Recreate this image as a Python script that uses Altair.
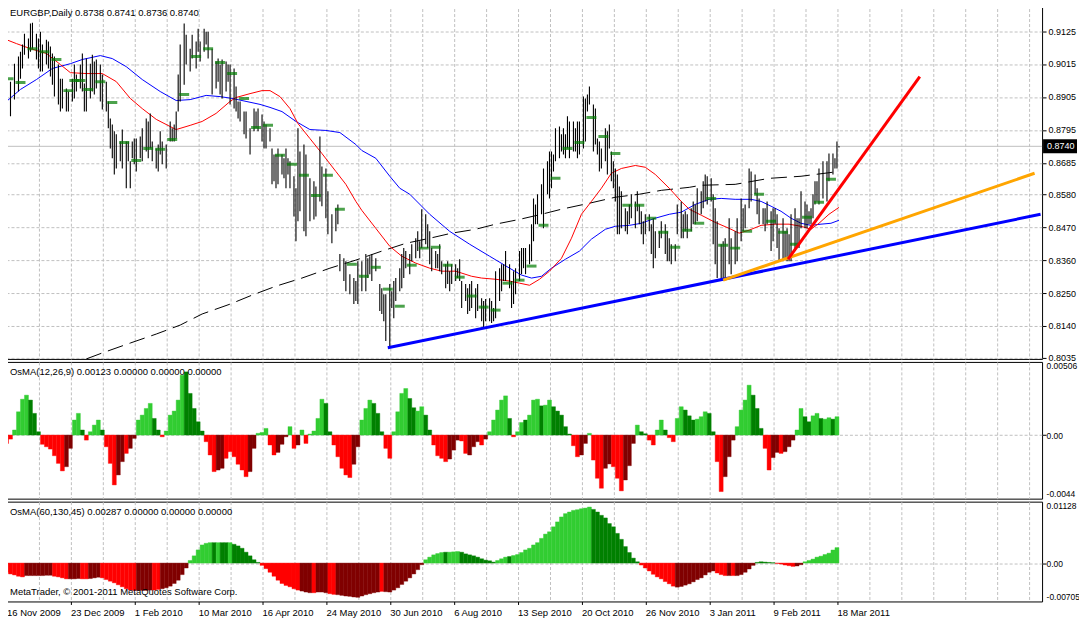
import altair as alt
import pandas as pd

FONT = "Liberation Sans"
FS = 9.5
FS_AX = 9
FS_OSC = 8.5

# ---------------- axis labels ----------------
date_ticks = [0, 32, 64, 96, 128, 160, 192, 224, 256, 288, 320, 352, 384, 416]
date_labels = ["16 Nov 2009", "23 Dec 2009", "1 Feb 2010", "10 Mar 2010", "16 Apr 2010",
               "24 May 2010", "30 Jun 2010", "6 Aug 2010", "13 Sep 2010", "20 Oct 2010",
               "26 Nov 2010", "3 Jan 2011", "9 Feb 2011", "18 Mar 2011"]
grid_x = list(range(0, 519, 16))
price_ticks = [0.9125, 0.9015, 0.8905, 0.8795, 0.8685, 0.8580, 0.8470, 0.8360, 0.8250, 0.8140, 0.8035]
fast_ticks = [0.00506, 0.0, -0.0044]
fast_tick_labels = ["0.00506", "0.00", "-0.0044"]
slow_ticks = [0.01128, 0.0, -0.00705]
slow_tick_labels = ["0.01128", "0.00", "-0.00705"]

title_text = "EURGBP,Daily  0.8738 0.8741 0.8736 0.8740"
fast_text = "OsMA(12,26,9) 0.00123 0.00000 0.00000 0.00000"
slow_text = "OsMA(60,130,45) 0.00287 0.00000 0.00000 0.00000"
copyright_text = "MetaTrader, \u00a9 2001-2011 MetaQuotes Software Corp."
last_close = 0.8740

# ---------------- price bars (bar index, high, low) ----------------
bar_i = [0, 2, 4, 6, 7, 8, 9, 11, 12, 13,
         15, 16, 17, 18, 20, 21, 22, 23, 24, 26,
         27, 28, 30, 31, 33, 34, 35, 37, 38, 39,
         40, 42, 43, 44, 45, 47, 48, 50, 51, 52,
         53, 54, 55, 57, 58, 60, 61, 62, 63, 64,
         65, 67, 68, 70, 71, 72, 73, 75, 76, 77,
         78, 80, 82, 83, 84, 85, 86, 87, 89, 90,
         92, 93, 95, 96, 97, 99, 100, 101, 103, 105,
         106, 107, 108, 110, 111, 112, 114, 115, 116, 117,
         119, 120, 122, 124, 125, 126, 128, 129, 130, 132,
         133, 134, 135, 136, 138, 139, 140, 141, 142, 144,
         145, 146, 147, 149, 150, 152, 154, 155, 157, 158,
         160, 161, 163, 165, 166, 167, 169, 170, 172, 174,
         175, 176, 178, 180, 181, 182, 183, 185, 187, 188,
         189, 190, 192, 193, 194, 195, 197, 198, 199, 200,
         202, 203, 205, 206, 207, 208, 210, 211, 212, 213,
         215, 216, 217, 218, 220, 221, 222, 223, 225, 226,
         227, 228, 230, 231, 232, 233, 235, 236, 238, 239,
         240, 242, 243, 244, 245, 247, 248, 249, 250, 252,
         253, 254, 255, 257, 258, 259, 260, 262, 263, 264,
         265, 266, 268, 269, 271, 272, 273, 274, 275, 277,
         278, 279, 280, 281, 282, 284, 285, 286, 287, 289,
         290, 291, 292, 294, 295, 296, 297, 298, 300, 301,
         302, 303, 304, 305, 306, 307, 308, 310, 311, 312,
         313, 315, 316, 317, 318, 319, 320, 322, 323, 324,
         325, 327, 328, 330, 331, 332, 333, 335, 336, 338,
         339, 340, 341, 343, 344, 345, 346, 348, 349, 350,
         351, 353, 354, 355, 356, 358, 359, 360, 362, 363,
         365, 366, 368, 369, 370, 372, 373, 375, 376, 377,
         379, 380, 381, 383, 384, 385, 386, 387, 389, 390,
         391, 392, 393, 395, 396, 397, 398, 400, 401, 402,
         403, 404, 405, 406, 407, 409, 411, 412, 414, 415,
         416, 417]
bar_hi = [.8966, .8956, .9016, .9040, .9056, .9080, .9116, .9100, .9150, .9153,
          .9116, .9100, .9123, .9080, .9096, .9090, .9073, .9050, .9040, .9013,
          .8966, .8966, .8933, .8923, .8966, .9013, .8980, .9013, .9050, .8950,
          .9033, .9016, .9046, .9023, .9030, .9013, .8980, .8956, .8890, .8833,
          .8813, .8790, .8780, .8756, .8796, .8756, .8756, .8690, .8756, .8766,
          .8766, .8773, .8800, .8833, .8823, .8850, .8756, .8733, .8746, .8790,
          .8756, .8746, .8823, .8800, .8813, .8856, .8980, .9080, .9150, .9113,
          .9066, .9113, .9090, .9133, .9090, .9133, .9123, .9123, .9066, .9023,
          .9033, .9013, .9030, .9023, .9013, .9013, .9000, .8940, .8890, .8890,
          .8856, .8856, .8800, .8866, .8856, .8866, .8846, .8823, .8813, .8800,
          .8733, .8713, .8713, .8733, .8713, .8700, .8733, .8700, .8690, .8640,
          .8600, .8800, .8723, .8746, .8713, .8633, .8623, .8606, .8773, .8673,
          .8666, .8590, .8513, .8533, .8546, .8380, .8366, .8356, .8313, .8300,
          .8290, .8356, .8356, .8380, .8366, .8373, .8380, .8366, .8280, .8266,
          .8246, .8246, .8280, .8256, .8290, .8300, .8333, .8380, .8400, .8390,
          .8380, .8413, .8433, .8456, .8423, .8530, .8513, .8480, .8456, .8400,
          .8390, .8380, .8413, .8356, .8346, .8356, .8323, .8346, .8346, .8333,
          .8363, .8290, .8280, .8266, .8280, .8290, .8266, .8280, .8233, .8223,
          .8230, .8233, .8223, .8200, .8323, .8333, .8346, .8346, .8390, .8346,
          .8290, .8323, .8333, .8390, .8400, .8400, .8400, .8413, .8480, .8566,
          .8546, .8580, .8613, .8666, .8690, .8723, .8723, .8713, .8800, .8806,
          .8780, .8800, .8780, .8840, .8823, .8823, .8800, .8823, .8823, .8906,
          .8900, .8913, .8940, .8880, .8866, .8766, .8756, .8733, .8800, .8790,
          .8813, .8723, .8690, .8666, .8646, .8606, .8590, .8533, .8523, .8546,
          .8580, .8556, .8590, .8546, .8523, .8490, .8513, .8513, .8480, .8500,
          .8456, .8456, .8490, .8480, .8456, .8433, .8413, .8413, .8546, .8556,
          .8513, .8523, .8513, .8533, .8556, .8546, .8600, .8590, .8623, .8646,
          .8640, .8633, .8580, .8533, .8490, .8413, .8423, .8433, .8500, .8433,
          .8456, .8500, .8566, .8533, .8546, .8666, .8656, .8646, .8600, .8566,
          .8533, .8533, .8556, .8523, .8533, .8533, .8513, .8466, .8500, .8456,
          .8466, .8446, .8513, .8533, .8500, .8500, .8590, .8556, .8546, .8523,
          .8533, .8580, .8623, .8623, .8666, .8690, .8690, .8716, .8716, .8700,
          .8756, .8741]
bar_lo = [.8833, .8840, .8896, .8923, .8966, .9000, .9046, .9033, .9056, .9066,
          .9030, .9000, .8990, .8990, .9013, .9000, .8973, .8946, .8906, .8880,
          .8856, .8866, .8856, .8856, .8890, .8900, .8923, .8933, .8923, .8856,
          .8856, .8900, .8923, .8913, .8933, .8890, .8863, .8856, .8800, .8733,
          .8700, .8646, .8666, .8690, .8666, .8600, .8690, .8600, .8700, .8680,
          .8656, .8700, .8690, .8723, .8700, .8733, .8690, .8666, .8656, .8713,
          .8680, .8666, .8756, .8756, .8756, .8766, .8856, .8890, .8946, .9013,
          .8990, .9033, .9000, .9056, .9023, .9056, .9080, .9033, .8913, .8933,
          .8956, .8913, .8900, .8923, .8956, .8880, .8866, .8856, .8833, .8823,
          .8780, .8766, .8713, .8790, .8800, .8790, .8756, .8733, .8733, .8756,
          .8613, .8623, .8600, .8613, .8646, .8633, .8600, .8646, .8600, .8506,
          .8423, .8490, .8523, .8456, .8440, .8490, .8496, .8506, .8556, .8540,
          .8500, .8446, .8416, .8456, .8480, .8323, .8290, .8256, .8246, .8213,
          .8223, .8213, .8256, .8256, .8300, .8313, .8290, .8323, .8190, .8180,
          .8156, .8090, .8073, .8200, .8166, .8223, .8256, .8266, .8300, .8333,
          .8313, .8356, .8366, .8390, .8366, .8400, .8413, .8400, .8346, .8323,
          .8333, .8333, .8323, .8313, .8266, .8280, .8256, .8280, .8290, .8300,
          .8290, .8200, .8223, .8180, .8190, .8200, .8166, .8190, .8156, .8133,
          .8156, .8156, .8150, .8156, .8166, .8223, .8256, .8290, .8290, .8266,
          .8200, .8213, .8246, .8290, .8313, .8333, .8313, .8346, .8356, .8423,
          .8480, .8480, .8513, .8466, .8580, .8566, .8600, .8656, .8690, .8700,
          .8723, .8713, .8700, .8733, .8700, .8723, .8723, .8700, .8713, .8733,
          .8756, .8856, .8880, .8723, .8746, .8713, .8656, .8666, .8690, .8646,
          .8733, .8623, .8600, .8556, .8446, .8446, .8466, .8456, .8446, .8480,
          .8500, .8466, .8523, .8480, .8446, .8413, .8446, .8456, .8380, .8333,
          .8366, .8400, .8433, .8380, .8356, .8356, .8346, .8356, .8446, .8433,
          .8433, .8456, .8433, .8456, .8480, .8480, .8490, .8513, .8533, .8556,
          .8546, .8556, .8413, .8346, .8300, .8290, .8300, .8300, .8346, .8313,
          .8346, .8356, .8423, .8456, .8466, .8533, .8556, .8580, .8513, .8480,
          .8480, .8456, .8480, .8390, .8423, .8480, .8400, .8356, .8356, .8366,
          .8356, .8356, .8356, .8390, .8400, .8400, .8466, .8466, .8466, .8480,
          .8480, .8500, .8546, .8556, .8546, .8566, .8556, .8623, .8646, .8666,
          .8666, .8736]

# ---------------- green close markers ----------------
mk_i = [1, 7, 13, 19, 25, 31, 34, 37, 41, 47, 53, 59, 65, 71, 77, 83, 89, 95, 101,
        107, 113, 119, 125, 131, 137, 143, 149, 155, 161, 167, 173, 179, 185, 191, 197,
        203, 209, 215, 221, 227, 233, 239, 245, 251, 257, 263, 269, 275, 281, 287, 293,
        299, 305, 311, 317, 323, 329, 335, 341, 347, 353, 359, 365, 371, 377, 383, 389,
        395, 401, 407, 413]
mk_v = [.8966, .8953, .9066, .9056, .9030, .8926, .8960, .8960, .8930, .8956, .8886,
        .8753, .8693, .8733, .8730, .8763, .8913, .9040, .9066, .9020, .8983, .8900,
        .8803, .8810, .8710, .8680, .8643, .8576, .8643, .8530, .8346, .8306, .8336,
        .8263, .8206, .8343, .8400, .8403, .8343, .8303, .8240, .8203, .8193, .8283,
        .8293, .8340, .8476, .8633, .8733, .8753, .8836, .8773, .8716, .8543, .8543,
        .8500, .8453, .8403, .8460, .8483, .8566, .8410, .8400, .8456, .8580, .8490,
        .8453, .8413, .8503, .8553, .8630]

# ---------------- moving averages ----------------
ma_red_i = [0, 5, 12, 20, 27, 32, 40, 48, 55, 62, 68, 75, 82, 85, 92, 98, 105, 112, 115, 122,
            128, 132, 137, 142, 146, 152, 158, 165, 170, 175, 178, 185, 192, 198, 205, 212,
            218, 225, 233, 238, 245, 252, 257, 262, 267, 272, 278, 283, 288, 293, 298, 303,
            308, 315, 320, 325, 332, 338, 342, 348, 355, 362, 367, 372, 378, 385, 392, 398,
            403, 407, 412, 417]
ma_red_v = [.9096, .9083, .9066, .9050, .9013, .8986, .8983, .8983, .8956, .8900, .8866,
            .8830, .8806, .8796, .8810, .8823, .8850, .8890, .8903, .8916, .8926, .8926,
            .8906, .8866, .8816, .8766, .8716, .8656, .8613, .8556, .8526, .8466, .8406,
            .8373, .8350, .8333, .8323, .8323, .8306, .8300, .8296, .8290, .8283, .8276,
            .8296, .8323, .8366, .8433, .8513, .8556, .8600, .8650, .8666, .8676, .8670,
            .8646, .8600, .8556, .8530, .8510, .8486, .8466, .8450, .8460, .8476, .8480,
            .8480, .8473, .8463, .8483, .8513, .8536]
ma_blue_i = [0, 7, 15, 23, 32, 38, 47, 53, 60, 68, 77, 85, 92, 100, 107, 113, 120, 127, 132,
             138, 145, 152, 160, 167, 175, 178, 185, 192, 197, 202, 212, 222, 232, 242, 252,
             258, 263, 268, 273, 280, 287, 293, 300, 305, 312, 318, 325, 332, 338, 345, 352,
             358, 365, 373, 378, 383, 388, 393, 398, 403, 408, 413, 417]
ma_blue_v = [.8890, .8930, .8963, .9000, .9016, .9030, .9043, .9033, .9006, .8963, .8923,
             .8893, .8896, .8910, .8906, .8900, .8890, .8880, .8870, .8856, .8823, .8796,
             .8793, .8786, .8746, .8726, .8700, .8640, .8600, .8580, .8513, .8456, .8413,
             .8373, .8333, .8310, .8300, .8306, .8333, .8363, .8390, .8430, .8463, .8473,
             .8476, .8483, .8500, .8513, .8520, .8546, .8563, .8566, .8563, .8563, .8556,
             .8540, .8523, .8500, .8483, .8476, .8480, .8483, .8493]
ma_long_i = [40, 48, 62, 75, 87, 98, 112, 123, 135, 148, 162, 175, 188, 200, 212, 223, 235,
             245, 257, 268, 278, 292, 305, 317, 328, 342, 348, 365, 382, 398, 417]
ma_long_v = [.8030, .8050, .8083, .8113, .8143, .8180, .8213, .8243, .8273, .8300, .8333,
             .8360, .8390, .8416, .8433, .8450, .8463, .8480, .8496, .8513, .8530, .8550,
             .8570, .8580, .8593, .8603, .8610, .8613, .8633, .8640, .8656]

# ---------------- trend lines ----------------
tl_blue_i, tl_blue_v = [191, 518], [0.8067, 0.8513]
tl_orange_i, tl_orange_v = [359, 515], [0.8293, 0.8650]
tl_red_i, tl_red_v = [391.5, 457.5], [0.8363, 0.8973]

# ---------------- OsMA histograms (value x 1e5, one per 2 bars) ----------------
osma_fast_e5 = [-58, -28, 35, 161, 248, 276, 242, 150, 23, -64,
                -81, -97, -143, -196, -248, -219, -92, 104, 150, 35,
                -35, 23, 69, 104, 35, -81, -196, -345, -276, -184,
                -127, -92, -23, 104, 138, 184, 219, 115, 35, -12,
                28, 138, 166, 242, 414, 437, 288, 184, 92, 28,
                -46, -138, -253, -242, -230, -161, -115, -150, -202, -242,
                -288, -253, -92, 12, 18, 46, -69, -138, -120, -64,
                -12, 58, -92, -69, 35, -58, 7, 28, 115, 248,
                219, 23, -69, -150, -230, -276, -294, -202, -81, 104,
                184, 242, 219, 150, 23, -92, -161, 23, 161, 288,
                322, 253, 189, 166, 196, 138, 35, -69, -143, -161,
                -184, -166, -104, -35, -41, -127, -138, -81, -46, -69,
                -28, 23, 104, 173, 242, 271, 115, -12, 23, 87,
                104, 138, 242, 248, 202, 207, 242, 196, 166, 138,
                58, 7, -74, -150, -138, -58, 12, -173, -299, -368,
                -230, -200, -219, -299, -386, -311, -212, -58, 69, 23,
                9, -35, -69, 35, 104, 35, -18, -46, 115, 196,
                173, 133, 104, 110, 127, 161, 150, 23, -184, -391,
                -288, -150, -35, 58, 173, 242, 345, 276, 184, 46,
                -92, -242, -156, -120, -127, -115, -81, -35, 35, 184,
                127, 92, 133, 150, 115, 110, 120, 110, 127]
osma_fast_col = ("RRLLLLGGGR" "RRRRRMMLLG" "RLLLGRRRMM" "RMMLLLLGGR" "LLLLLGGGGG"
                 "RRRMMRRRRR" "RMMLLLRRMM" "MLRMLRLLLL" "GGRRRRRMML" "LLGGGRRLLL"
                 "LGGLLGGRRR" "RMMMRRMMMR" "MLLLLLGRLL" "GLLLGLLGGG" "GGRRMMLRRR"
                 "MMRRRMMMLG" "GRRLLGRRLL" "GGGLLLGGRR" "MMMLLLLGGG" "RRMMRMMMLL"
                 "GGLLGLLGL")
osma_slow_e5 = [-169, -200, -218, -242, -254, -230, -230, -230, -230, -230,
                -224, -224, -242, -254, -272, -290, -290, -290, -284, -290,
                -290, -284, -272, -260, -272, -303, -333, -363, -399, -436,
                -472, -496, -502, -502, -502, -502, -496, -496, -484, -472,
                -454, -424, -375, -315, -212, -91, 48, 133, 242, 333,
                363, 375, 375, 375, 375, 375, 375, 345, 315, 272,
                200, 133, 61, 12, -42, -103, -169, -242, -315, -375,
                -411, -436, -472, -496, -514, -532, -545, -545, -532, -532,
                -545, -563, -575, -581, -593, -605, -611, -623, -629, -605,
                -581, -563, -545, -532, -520, -526, -532, -496, -454, -393,
                -333, -272, -200, -121, -30, 61, 109, 151, 175, 194,
                200, 200, 206, 212, 200, 169, 151, 133, 109, 79,
                54, 42, 18, 48, 79, 109, 121, 139, 157, 194,
                242, 272, 333, 375, 454, 532, 575, 666, 756, 847,
                908, 938, 968, 980, 998, 1010, 1029, 986, 938, 877,
                829, 726, 666, 545, 436, 303, 194, 91, 24, -36,
                -91, -145, -206, -254, -290, -339, -381, -424, -442, -430,
                -405, -381, -345, -303, -272, -218, -169, -145, -182, -212,
                -230, -230, -230, -230, -212, -169, -109, -42, 12, 24,
                18, 12, 6, -6, -18, -36, -48, -61, -54, -30,
                24, 48, 73, 109, 127, 157, 182, 240, 284]
osma_slow_col = ("RRRRRMMMMM" "MMRRRRMMMR" "RMMMRRRRRR" "RRRMMMMRRM" "MMMMMMLLLL"
                 "LLGLGGLGGG" "GGGGRRRRRR" "RRRRMMMRMM" "MRRMMMMMMM" "MMMMRMMMMM"
                 "MMMMMLLLLL" "GLLLGGGGGG" "GGGLLLGLLL" "LLLLLLLLLL" "LLLLLLLGGG"
                 "GGGGGGGGGR" "RRRRRRRRMM" "MMMMMMMMRR" "RMRMMMMMGG" "GGGRRRRRMM"
                 "LLLLLLLLL")

# ---------------- tables ----------------
bars = pd.DataFrame({"i": bar_i, "hi": bar_hi, "lo": bar_lo})
marks = pd.DataFrame({"i": mk_i, "v": mk_v})
ma_red = pd.DataFrame({"i": ma_red_i, "v": ma_red_v})
ma_blue = pd.DataFrame({"i": ma_blue_i, "v": ma_blue_v})
ma_long = pd.DataFrame({"i": ma_long_i, "v": ma_long_v})
tl_blue = pd.DataFrame({"i": tl_blue_i, "v": tl_blue_v})
tl_orange = pd.DataFrame({"i": tl_orange_i, "v": tl_orange_v})
tl_red = pd.DataFrame({"i": tl_red_i, "v": tl_red_v})


def hist_table(vals, cols):
    idx = [2 * k for k in range(len(vals))]
    return pd.DataFrame({"x0": [i - 1 for i in idx], "x1": [i + 1 for i in idx],
                         "v": [v / 1e5 for v in vals], "z": 0.0, "c": list(cols)})


fast = hist_table(osma_fast_e5, osma_fast_col)
slow = hist_table(osma_slow_e5, osma_slow_col)

# ---------------- scales & axes ----------------
W = 1038
XS = alt.Scale(domain=[-0.25, 518.75], nice=False, zero=False)
YS_MAIN = alt.Scale(domain=[0.8030, 0.92167], nice=False, zero=False)
YS_F = alt.Scale(domain=[-0.0044, 0.00506], nice=False, zero=False)
YS_S = alt.Scale(domain=[-0.00705, 0.01128], nice=False, zero=False)
GRID_COLOR = "#C0C0C0"
DASH = [3, 2]

X_AX_TOP = alt.Axis(values=grid_x, labels=False, ticks=False, domain=False, title=None,
                    grid=True, gridColor=GRID_COLOR, gridDash=DASH)
tick_list = "[" + ",".join(str(t) for t in date_ticks) + "]"
lab_list = "[" + ",".join("'" + s + "'" for s in date_labels) + "]"
X_AX_BOT = alt.Axis(
    values=grid_x, domain=False, title=None, grid=True, gridColor=GRID_COLOR, gridDash=DASH,
    labelExpr=f"indexof({tick_list}, datum.value) >= 0 ? {lab_list}[indexof({tick_list}, datum.value)] : ''",
    tickColor={"condition": {"test": f"indexof({tick_list}, datum.value) >= 0", "value": "black"},
               "value": "transparent"},
    tickSize=3, labelAlign="left", labelPadding=3, labelFlush=False, labelOverlap=False,
    labelFont=FONT, labelFontSize=FS, labelColor="black")

Y_AX_MAIN = alt.Axis(orient="right", values=price_ticks, format=".4f", title=None, domain=False,
                     tickSize=4, tickColor="black", labelPadding=2, labelFont=FONT,
                     labelFontSize=FS_AX, labelColor="black", labelOverlap=False,
                     grid=True, gridColor=GRID_COLOR, gridDash=DASH)


def osc_axis(ticks, labels):
    tl = "[" + ",".join(repr(t) for t in ticks) + "]"
    ll = "[" + ",".join("'" + s + "'" for s in labels) + "]"
    return alt.Axis(orient="right", values=ticks, title=None, domain=False,
                    labelExpr=f"{ll}[indexof({tl}, datum.value)]",
                    tickSize=4,
                    tickColor={"condition": {"test": "datum.value == 0", "value": "black"},
                               "value": "transparent"},
                    labelPadding=0, labelFont=FONT, labelFontSize=FS_OSC, labelColor="black",
                    labelFlush=True, labelFlushOffset=0, labelOverlap=False,
                    grid=True, gridDash=DASH,
                    gridColor={"condition": {"test": "datum.value == 0", "value": GRID_COLOR},
                               "value": "transparent"})


Y_AX_F = osc_axis(fast_ticks, fast_tick_labels)
Y_AX_S = osc_axis(slow_ticks, slow_tick_labels)


def X(field="i", ax=X_AX_TOP):
    return alt.X(f"{field}:Q", scale=XS, axis=ax)


def YM(field="v"):
    return alt.Y(f"{field}:Q", scale=YS_MAIN, axis=Y_AX_MAIN)


# ---------------- main price panel ----------------
cur_line = alt.Chart(pd.DataFrame({"v": [last_close]})).mark_rule(
    color=GRID_COLOR, strokeWidth=1).encode(y=YM())
long_ma = alt.Chart(ma_long).mark_line(color="black", strokeWidth=1, strokeDash=[16, 7],
                                       clip=True).encode(x=X(), y=YM())
blue_ma = alt.Chart(ma_blue).mark_line(color="#0000FF", strokeWidth=1, clip=True).encode(x=X(), y=YM())
red_ma = alt.Chart(ma_red).mark_line(color="#FF0000", strokeWidth=1, clip=True).encode(x=X(), y=YM())
price_bars = alt.Chart(bars).mark_rule(color="black", strokeWidth=1.1, clip=True).encode(
    x=X(), y=YM("lo"), y2="hi:Q")
close_marks = alt.Chart(marks).mark_tick(color="#007A00", orient="horizontal", size=10,
                                         thickness=3, clip=True).encode(x=X(), y=YM())
t_blue = alt.Chart(tl_blue).mark_line(color="#0000FF", strokeWidth=3, clip=True).encode(x=X(), y=YM())
t_orange = alt.Chart(tl_orange).mark_line(color="#FFA500", strokeWidth=3, clip=True).encode(x=X(), y=YM())
t_red = alt.Chart(tl_red).mark_line(color="#FF0000", strokeWidth=3, clip=True).encode(x=X(), y=YM())
title_mark = alt.Chart(pd.DataFrame({"t": [title_text]})).mark_text(
    align="left", baseline="middle", font=FONT, fontSize=FS, color="black").encode(
    x=alt.value(4), y=alt.value(9), text="t:N")
box_df = pd.DataFrame({"v": [last_close], "t": [f"{last_close:.4f}"]})
price_box = alt.Chart(box_df).mark_rect(color="black", yOffset=-7, y2Offset=7).encode(
    x=alt.value(W + 1), x2=alt.value(W + 35), y=YM(), y2="v:Q")
price_box_text = alt.Chart(box_df).mark_text(
    align="left", baseline="middle", font=FONT, fontSize=FS_AX, color="white").encode(
    x=alt.value(W + 5), y=YM(), text="t:N")

main = alt.layer(cur_line, long_ma, blue_ma, red_ma, price_bars, close_marks,
                 t_blue, t_orange, t_red, title_mark, price_box, price_box_text
                 ).properties(width=W, height=356)

# ---------------- oscillator panels ----------------
COLS = alt.Scale(domain=["L", "G", "R", "M"], range=["#32CD32", "#008000", "#FF0000", "#800000"])


def osc_panel(df, ys, yax, xax, label, h, extra=None):
    hist = alt.Chart(df).mark_rect(strokeWidth=0.4).encode(
        x=alt.X("x0:Q", scale=XS, axis=xax), x2="x1:Q",
        y=alt.Y("v:Q", scale=ys, axis=yax), y2="z:Q",
        color=alt.Color("c:N", scale=COLS, legend=None),
        stroke=alt.Stroke("c:N", scale=COLS, legend=None))
    lab = alt.Chart(pd.DataFrame({"t": [label]})).mark_text(
        align="left", baseline="middle", font=FONT, fontSize=FS, color="black").encode(
        x=alt.value(4), y=alt.value(10), text="t:N")
    layers = [hist, lab]
    if extra is not None:
        layers.append(alt.Chart(pd.DataFrame({"t": [extra]})).mark_text(
            align="left", baseline="middle", font=FONT, fontSize=FS, color="black").encode(
            x=alt.value(4), y=alt.value(h - 9), text="t:N"))
    return alt.layer(*layers).properties(width=W, height=h)


pf = osc_panel(fast, YS_F, Y_AX_F, X_AX_TOP, fast_text, 137)
ps = osc_panel(slow, YS_S, Y_AX_S, X_AX_BOT, slow_text, 100, extra=copyright_text)

chart = alt.vconcat(main, pf, ps, spacing=3, bounds="flush").properties(
    padding={"left": -5, "top": -6, "right": -2, "bottom": 0},
    background="white"
).configure_view(stroke="black", strokeWidth=1)

chart.save("out.html", embed_options={"renderer": "svg", "actions": False})
